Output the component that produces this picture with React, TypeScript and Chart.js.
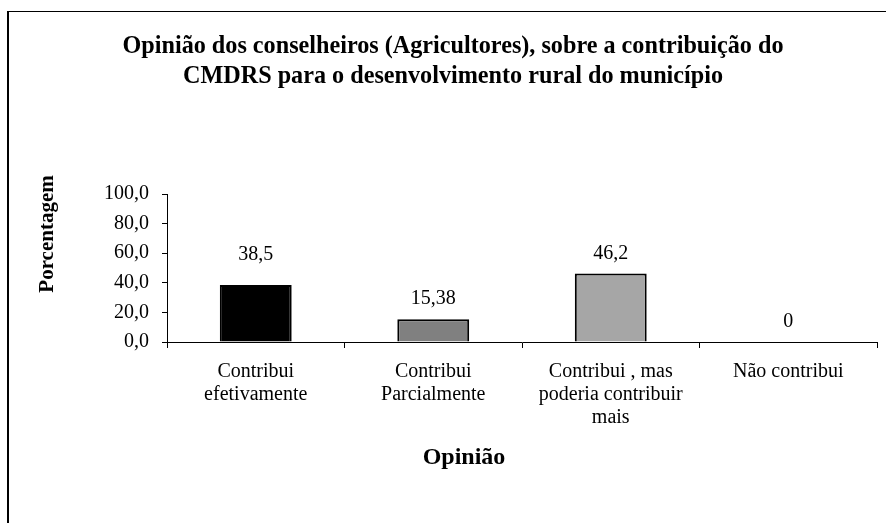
import React, { useEffect, useRef } from "react";
import { Chart, registerables } from "chart.js";

Chart.register(...registerables);

const categories: string[][] = [
  ["Contribui", "efetivamente"],
  ["Contribui", "Parcialmente"],
  ["Contribui , mas", "poderia contribuir", "mais"],
  ["Não contribui"],
];
const values: number[] = [38.5, 15.38, 46.2, 0];
const valueLabels: string[] = ["38,5", "15,38", "46,2", "0"];
const barColors: string[] = ["#000000", "#808080", "#A6A6A6", "#FFFFFF"];
const titleLines: string[] = [
  "Opinião dos conselheiros (Agricultores), sobre a contribuição do",
  "CMDRS para o desenvolvimento rural do município",
];
const yTitle = "Porcentagem";
const xTitle = "Opinião";

const SERIF = "'Liberation Serif', 'Times New Roman', serif";
const LABEL_GAP = [30, 20, 20, 20];

const textPlugin = {
  id: "textPlugin",
  afterDatasetsDraw(chart: any) {
    const ctx = chart.ctx;
    const meta = chart.getDatasetMeta(0);
    ctx.save();
    ctx.fillStyle = "#000";
    ctx.font = `20px ${SERIF}`;
    ctx.textAlign = "center";
    ctx.textBaseline = "middle";
    meta.data.forEach((bar: any, i: number) => {
      ctx.fillText(valueLabels[i], bar.x, bar.y - LABEL_GAP[i]);
    });
    ctx.restore();
  },
  afterDraw(chart: any) {
    const ctx = chart.ctx;
    const area = chart.chartArea;
    ctx.save();
    ctx.fillStyle = "#000";
    ctx.textAlign = "center";
    ctx.textBaseline = "middle";
    // Title (horizontally condensed like the reference)
    ctx.font = `bold 25px ${SERIF}`;
    const w1 = ctx.measureText(titleLines[0]).width;
    const sx = 661 / w1;
    const cx = chart.width / 2 + 10;
    titleLines.forEach((line, i) => {
      ctx.save();
      ctx.translate(cx, 47 + i * 30);
      ctx.scale(sx, 1);
      ctx.fillText(line, 0, 0);
      ctx.restore();
    });
    // Y axis title
    ctx.font = `bold 21px ${SERIF}`;
    ctx.save();
    ctx.translate(area.left - 119, area.top + 40);
    ctx.rotate(-Math.PI / 2);
    ctx.fillText(yTitle, 0, 0);
    ctx.restore();
    // X axis title
    ctx.font = `bold 24px ${SERIF}`;
    ctx.fillText(xTitle, chart.width / 2 + 21, area.bottom + 116);
    ctx.restore();
  },
};

export default function App() {
  const ref = useRef<HTMLCanvasElement | null>(null);

  useEffect(() => {
    if (!ref.current) return;
    const chart = new Chart(ref.current, {
      type: "bar",
      data: {
        labels: categories,
        datasets: [
          {
            data: values,
            backgroundColor: barColors,
            borderColor: "#000000",
            borderWidth: 2,
            barPercentage: 0.405,
            categoryPercentage: 1,
          },
        ],
      },
      options: {
        responsive: false,
        animation: false,
        layout: { padding: { left: 67, top: 194, right: 9, bottom: 0 } },
        plugins: {
          legend: { display: false },
          title: { display: false },
          tooltip: { enabled: false },
        },
        scales: {
          x: {
            afterFit: (s: any) => {
              s.height = 181;
            },
            grid: {
              offset: true,
              drawOnChartArea: false,
              tickLength: 6,
              color: "#000",
            },
            border: { color: "#000", width: 1 },
            ticks: {
              color: "#000",
              padding: 12,
              maxRotation: 0,
              autoSkip: false,
              font: { family: SERIF, size: 20, lineHeight: 1.15 },
            },
          },
          y: {
            min: 0,
            max: 100,
            afterFit: (s: any) => {
              s.width = 100;
            },
            grid: {
              drawOnChartArea: false,
              tickLength: 5,
              color: "#000",
            },
            border: { color: "#000", width: 1 },
            ticks: {
              stepSize: 20,
              color: "#000",
              padding: 13,
              font: { family: SERIF, size: 20 },
              callback: (v: any) => Number(v).toFixed(1).replace(".", ","),
            },
          },
        },
      },
      plugins: [textPlugin],
    });
    return () => chart.destroy();
  }, []);

  return (
    <div
      style={{
        position: "fixed",
        left: 0,
        top: 0,
        width: 886,
        height: 523,
        background: "#fff",
        overflow: "hidden",
      }}
    >
      <div
        style={{
          position: "absolute",
          left: 7,
          top: 11,
          width: 900,
          height: 600,
          borderLeft: "2px solid #000",
          borderTop: "1px solid #000",
        }}
      />
      <canvas
        ref={ref}
        width={886}
        height={523}
        style={{ position: "absolute", left: 0, top: 0, width: 886, height: 523 }}
      />
    </div>
  );
}
